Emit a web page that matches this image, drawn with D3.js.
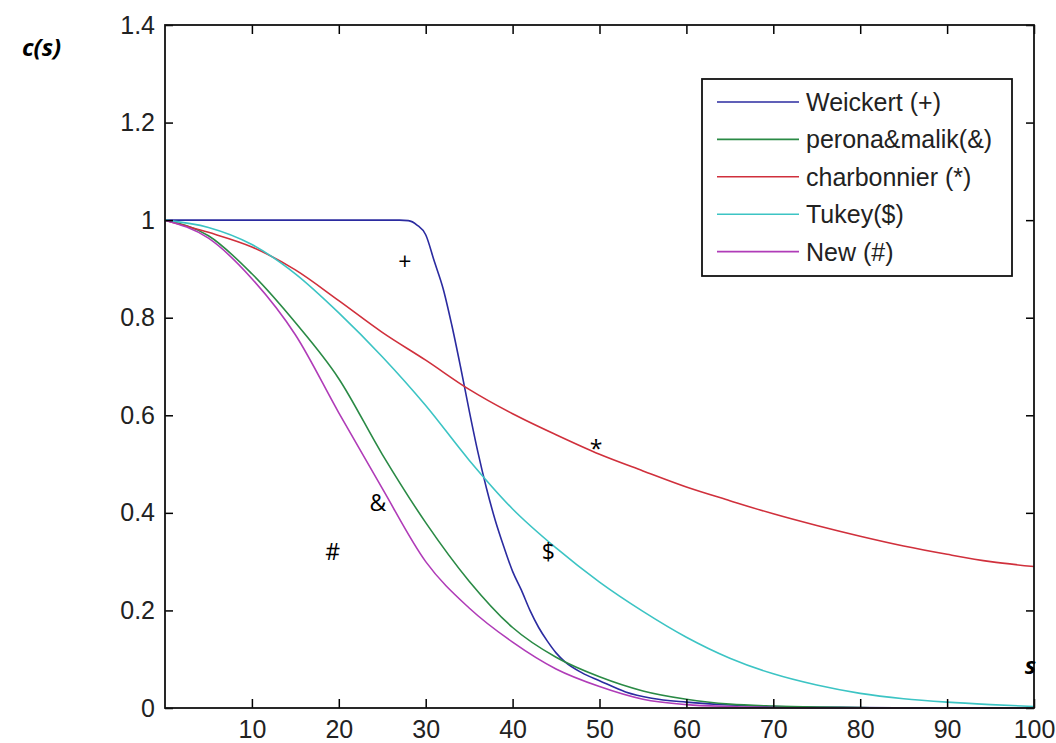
<!DOCTYPE html>
<html>
<head>
<meta charset="utf-8">
<script src="https://cdn.jsdelivr.net/npm/d3@7"></script>
<style>
  body { margin: 0; background: #fff; }
  svg { display: block; }
  .tick text { font-family: "Liberation Sans", Arial, sans-serif; font-size: 25px; fill: #222; }
  .legend text { font-family: "Liberation Sans", Arial, sans-serif; font-size: 25px; fill: #222; }
  .mark { font-family: "Open Sans", "DejaVu Sans", sans-serif; font-size: 23px; fill: #000; }
  .alabel { font-family: "Open Sans", "DejaVu Sans", sans-serif; font-size: 24px; font-weight: bold; font-style: italic; fill: #000; }
</style>
</head>
<body>
<div id="chart"></div>
<script>
const sWeickert = [0, 5, 10, 15, 20, 25, 27, 28, 29, 30, 31, 32, 33, 34, 35, 36, 37, 38, 39, 40, 41, 42, 43, 44, 45, 46, 48, 50, 53, 56, 60, 65, 70, 80, 90, 100];
const vWeickert = [1, 1, 1, 1, 1, 1, 1, 0.999, 0.99, 0.97, 0.915, 0.86, 0.785, 0.70, 0.61, 0.525, 0.45, 0.385, 0.33, 0.28, 0.242, 0.20, 0.165, 0.137, 0.113, 0.095, 0.072, 0.056, 0.033, 0.02, 0.012, 0.006, 0.003, 0.001, 0, 0];

const sSteps = [0, 5, 10, 15, 20, 25, 30, 35, 40, 45, 50, 55, 60, 65, 70, 75, 80, 85, 90, 95, 100];
const vPerona = [1, 0.968, 0.89, 0.79, 0.675, 0.52, 0.38, 0.26, 0.165, 0.104, 0.064, 0.035, 0.018, 0.008, 0.004, 0.002, 0.001, 0, 0, 0, 0];
const vCharbonnier = [1, 0.975, 0.945, 0.898, 0.835, 0.77, 0.713, 0.653, 0.603, 0.56, 0.52, 0.486, 0.453, 0.425, 0.398, 0.374, 0.352, 0.332, 0.315, 0.30, 0.29];
const vTukey = [1, 0.985, 0.95, 0.89, 0.81, 0.72, 0.62, 0.508, 0.408, 0.328, 0.258, 0.198, 0.145, 0.102, 0.07, 0.047, 0.03, 0.019, 0.012, 0.007, 0.003];
const vNew = [1, 0.963, 0.88, 0.765, 0.605, 0.45, 0.30, 0.205, 0.135, 0.08, 0.044, 0.018, 0.007, 0.003, 0.001, 0, 0, 0, 0, 0, 0];

const seriesNames = ['Weickert (+)', 'perona&malik(&)', 'charbonnier (*)', 'Tukey($)', 'New (#)'];
const seriesColors = ['#2b2ba0', '#2a8a45', '#d0303c', '#3cc4c4', '#b03cb8'];

const xTicks = [10, 20, 30, 40, 50, 60, 70, 80, 90, 100];
const yTicks = [0, 0.2, 0.4, 0.6, 0.8, 1, 1.2, 1.4];

// curve markers written inside the plot: [text, s, c(s)]
const marks = [['+', 27.6, 0.914], ['*', 49.6, 0.532], ['&', 24.5, 0.42], ['#', 19.3, 0.32], ['$', 44.1, 0.32]];

const W = 1056, H = 743;
const margin = { top: 25, right: 22, bottom: 35, left: 165 };
const width = W - margin.left - margin.right;
const height = H - margin.top - margin.bottom;

const svg = d3.select('#chart').append('svg')
  .attr('width', W)
  .attr('height', H);

const g = svg.append('g')
  .attr('transform', `translate(${margin.left},${margin.top})`);

const x = d3.scaleLinear().domain([0, 100]).range([0, width]);
const y = d3.scaleLinear().domain([0, 1.4]).range([height, 0]);

// curves
const data = [
  sWeickert.map((s, i) => [s, vWeickert[i]]),
  sSteps.map((s, i) => [s, vPerona[i]]),
  sSteps.map((s, i) => [s, vCharbonnier[i]]),
  sSteps.map((s, i) => [s, vTukey[i]]),
  sSteps.map((s, i) => [s, vNew[i]])
];

const line = d3.line()
  .x(d => x(d[0]))
  .y(d => y(d[1]))
  .curve(d3.curveMonotoneX);

g.selectAll('.curve')
  .data(data)
  .enter()
  .append('path')
  .attr('class', 'curve')
  .attr('d', line)
  .attr('fill', 'none')
  .attr('stroke', (d, i) => seriesColors[i])
  .attr('stroke-width', 1.6);

// axes, ticks pointing inward like matlab
const fmt = d => String(+d.toFixed(1));
g.append('g')
  .attr('transform', `translate(0,${height})`)
  .call(d3.axisBottom(x).tickValues(xTicks).tickSize(-9).tickPadding(12))
  .call(a => a.select('.domain').remove());
g.append('g')
  .call(d3.axisTop(x).tickValues(xTicks).tickSize(-9).tickFormat(''))
  .call(a => a.select('.domain').remove());
g.append('g')
  .call(d3.axisLeft(y).tickValues(yTicks).tickSize(-8).tickPadding(10).tickFormat(fmt))
  .call(a => a.select('.domain').remove());
g.append('g')
  .attr('transform', `translate(${width},0)`)
  .call(d3.axisRight(y).tickValues(yTicks).tickSize(-8).tickFormat(''))
  .call(a => a.select('.domain').remove());

g.selectAll('.tick line').attr('stroke', '#000').attr('stroke-width', 1.5);

g.append('rect')
  .attr('width', width)
  .attr('height', height)
  .attr('fill', 'none')
  .attr('stroke', '#111')
  .attr('stroke-width', 1.8);

// legend
const legend = svg.append('g').attr('class', 'legend');
legend.append('rect')
  .attr('x', 702).attr('y', 79)
  .attr('width', 310).attr('height', 197)
  .attr('fill', '#fff')
  .attr('stroke', '#111')
  .attr('stroke-width', 1.8);
seriesNames.forEach((name, i) => {
  const ly = 102 + i * 37.4;
  legend.append('line')
    .attr('x1', 717).attr('x2', 799)
    .attr('y1', ly).attr('y2', ly)
    .attr('stroke', seriesColors[i])
    .attr('stroke-width', 1.6);
  legend.append('text')
    .attr('x', 806).attr('y', ly)
    .attr('dy', '0.36em')
    .text(name);
});

// markers
g.selectAll('.mark')
  .data(marks)
  .enter()
  .append('text')
  .attr('class', 'mark')
  .attr('x', d => x(d[1]))
  .attr('y', d => y(d[2]))
  .attr('dy', '0.36em')
  .attr('text-anchor', 'middle')
  .text(d => d[0]);

// axis names
svg.append('text').attr('class', 'alabel')
  .attr('x', 22).attr('y', 56)
  .text('c(s)');
g.append('text').attr('class', 'alabel')
  .attr('x', x(99.6)).attr('y', y(0.088))
  .attr('dy', '0.36em')
  .attr('text-anchor', 'middle')
  .text('s');
</script>
</body>
</html>
